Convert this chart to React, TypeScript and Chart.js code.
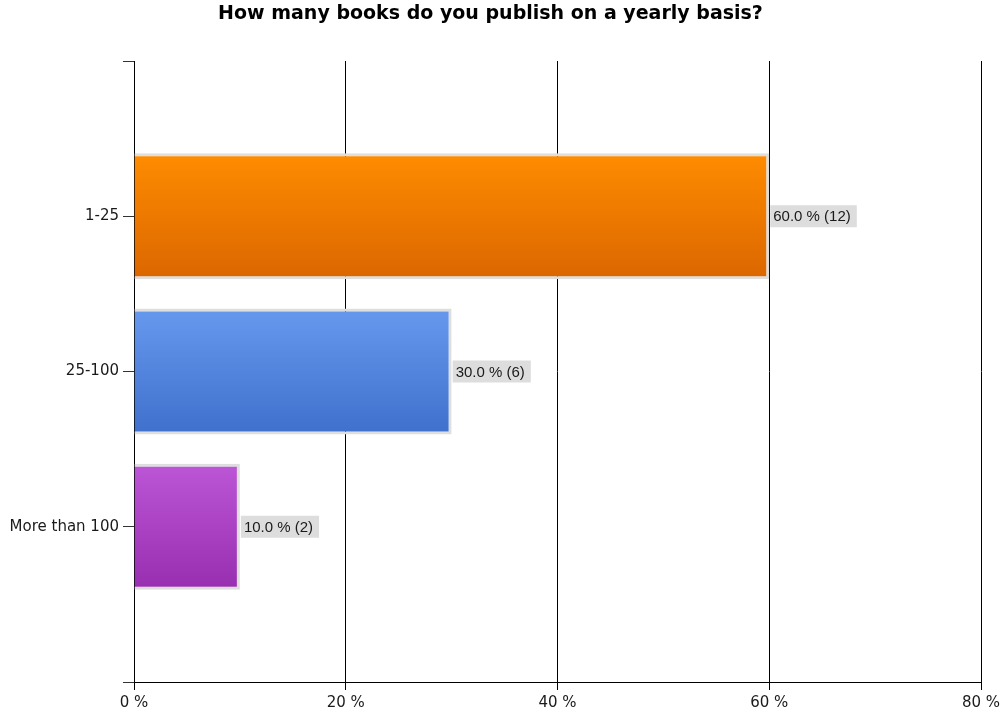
import React, { useEffect, useRef } from "react";
import { Chart, registerables } from "chart.js";

Chart.register(...registerables);

const categories = ["1-25", "25-100", "More than 100"];
const percentValues = [60.0, 30.0, 10.0];
const counts = [12, 6, 2];
const xTicks = [0, 20, 40, 60, 80];
const gradientTops = ["#FF8C00", "#6699EE", "#BC56D6"];
const gradientBottoms = ["#DB6600", "#3F70CC", "#982EB0"];

const BAR_FRACTION = 0.81;
const FONT = '"DejaVu Sans", Verdana, sans-serif';
const LABEL_FONT = '"Liberation Sans", Arial, sans-serif';

const labelPlugin = {
  id: "valueLabels",
  afterDatasetsDraw(chart: any) {
    const ctx = chart.ctx;
    const meta = chart.getDatasetMeta(0);
    ctx.save();
    ctx.font = `15px ${LABEL_FONT}`;
    ctx.textBaseline = "middle";
    meta.data.forEach((bar: any, i: number) => {
      const text = `${percentValues[i].toFixed(1)} % (${counts[i]})`;
      const w = ctx.measureText(text).width;
      const x = bar.x + 1;
      const y = bar.y;
      ctx.fillStyle = "#DDDDDD";
      ctx.fillRect(x, y - 11, w + 9, 22);
      ctx.fillStyle = "#1A1A1A";
      ctx.textAlign = "left";
      ctx.fillText(text, x + 3, y + 1);
    });
    ctx.restore();
  },
};

export default function App() {
  const ref = useRef<HTMLCanvasElement | null>(null);
  useEffect(() => {
    if (!ref.current) return;
    const chart = new Chart(ref.current, {
      type: "bar",
      data: {
        datasets: [
          {
            data: percentValues.map((v, i) => ({ x: v, y: i + 1 })) as any,
            backgroundColor: (c: any) => {
              const chart = c.chart;
              const i = c.dataIndex;
              if (!chart.chartArea || i === undefined) return gradientTops[i ?? 0];
              const ys = chart.scales.y;
              const yc = ys.getPixelForValue(i + 1);
              const half = (Math.abs(ys.getPixelForValue(1) - ys.getPixelForValue(0)) * BAR_FRACTION) / 2;
              const g = chart.ctx.createLinearGradient(0, yc - half, 0, yc + half);
              g.addColorStop(0, gradientTops[i]);
              g.addColorStop(1, gradientBottoms[i]);
              return g;
            },
            borderColor: "#DEDEDE",
            borderWidth: 3,
            borderSkipped: "start",
            barPercentage: BAR_FRACTION,
            categoryPercentage: 1,
          },
        ],
      },
      options: {
        indexAxis: "y",
        animation: false,
        responsive: false,
        layout: { padding: { left: 0, right: 19, top: 0, bottom: 0 } },
        plugins: {
          legend: { display: false },
          tooltip: { enabled: false },
          title: {
            display: true,
            text: "How many books do you publish on a yearly basis?",
            color: "#000000",
            font: { family: FONT, size: 19, weight: "bold", lineHeight: 1.2 },
            padding: { top: 3, bottom: 35.2 },
          },
        },
        scales: {
          x: {
            type: "linear",
            min: 0,
            max: 80,
            offset: false,
            afterBuildTicks: (s: any) => {
              s.ticks = xTicks.map((v) => ({ value: v }));
            },
            ticks: {
              callback: (v: any) => `${v} %`,
              color: "#1A1A1A",
              font: { family: FONT, size: 15 },
              padding: 4,
              maxRotation: 0,
            },
            grid: {
              color: "#000000",
              lineWidth: 1,
              drawTicks: true,
              tickLength: 8,
              offset: false,
            },
            border: { color: "#000000", width: 1 },
            afterFit: (s: any) => {
              s.height = 33;
              s.paddingLeft = 0;
              s.paddingRight = 0;
            },
          },
          y: {
            type: "linear",
            reverse: true,
            min: 0,
            max: 4,
            offset: false,
            afterBuildTicks: (s: any) => {
              s.ticks = [0, 1, 2, 3, 4].map((v) => ({ value: v }));
            },
            ticks: {
              callback: (v: any) => categories[Number(v) - 1] ?? "",
              color: "#1A1A1A",
              font: { family: FONT, size: 15 },
              padding: 4,
            },
            grid: {
              drawOnChartArea: false,
              drawTicks: true,
              tickLength: 11,
              color: "#333333",
              offset: false,
            },
            border: { color: "#000000", width: 1 },
            afterFit: (s: any) => {
              s.width = 134;
              s.paddingTop = 0;
              s.paddingBottom = 0;
            },
          },
        },
      },
      plugins: [labelPlugin],
    } as any);
    return () => chart.destroy();
  }, []);
  return (
    <div style={{ position: "fixed", left: 0, top: 0, width: 1000, height: 715, background: "#fff" }}>
      <canvas ref={ref} width={1000} height={715} style={{ width: 1000, height: 715 }} />
    </div>
  );
}
